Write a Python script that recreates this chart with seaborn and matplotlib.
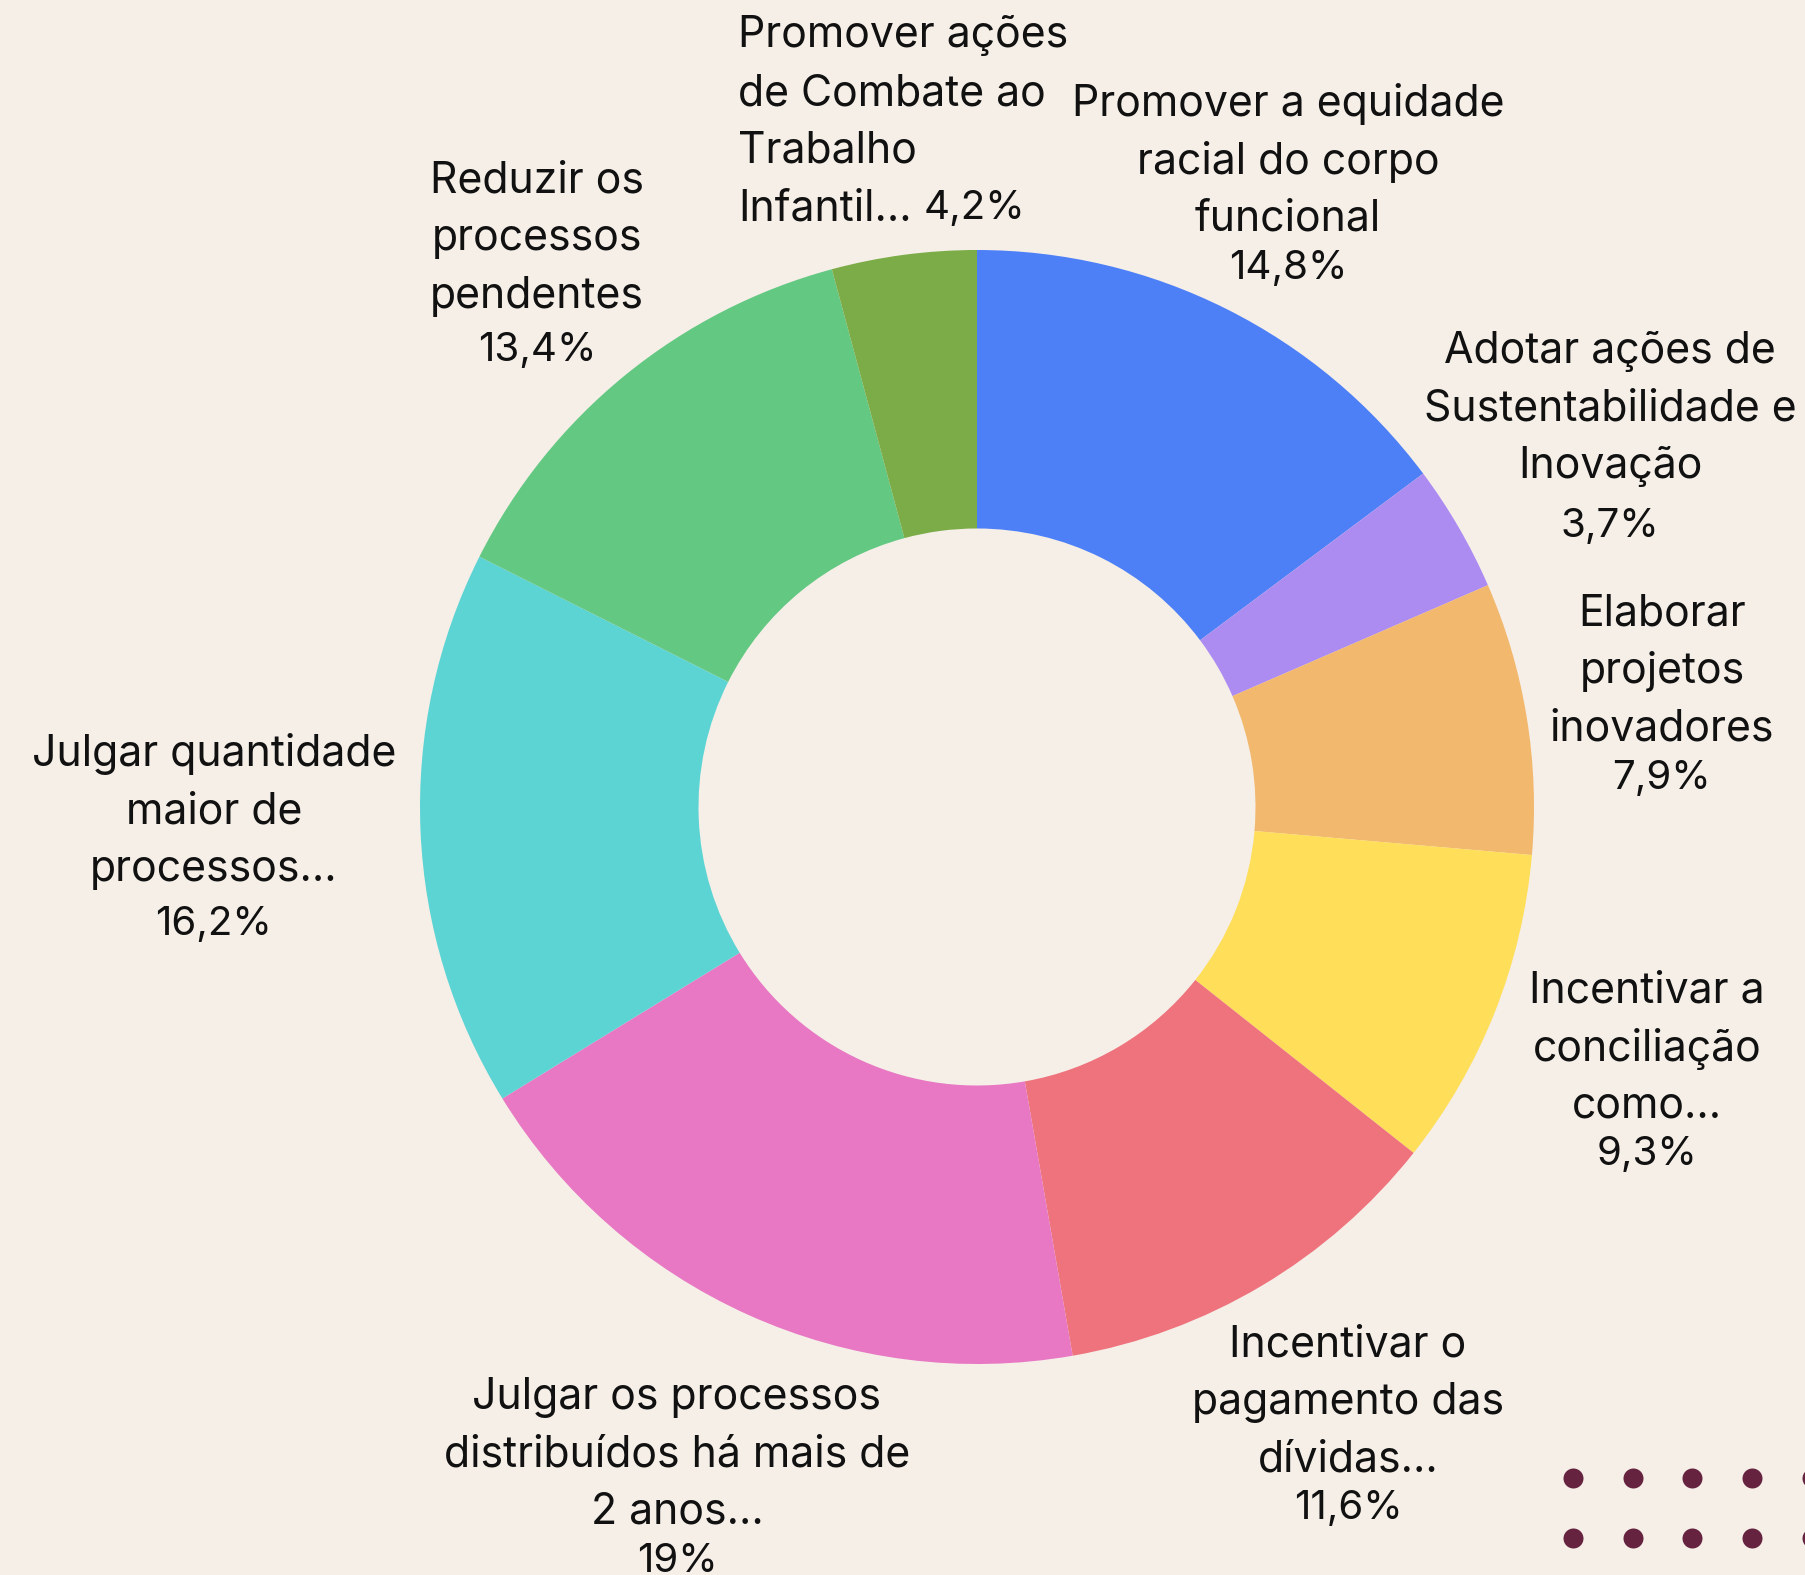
import matplotlib
matplotlib.use("Agg")
import matplotlib.pyplot as plt
import seaborn as sns

categories = [
    "Promover a equidade\nracial do corpo\nfuncional",
    "Adotar ações de\nSustentabilidade e\nInovação",
    "Elaborar\nprojetos\ninovadores",
    "Incentivar a\nconciliação\ncomo…",
    "Incentivar o\npagamento das\ndívidas…",
    "Julgar os processos\ndistribuídos há mais de\n2 anos…",
    "Julgar quantidade\nmaior de\nprocessos…",
    "Reduzir os\nprocessos\npendentes",
    "Promover ações\nde Combate ao\nTrabalho\nInfantil…",
]
values = [14.8, 3.7, 7.9, 9.3, 11.6, 19.0, 16.2, 13.4, 4.2]
pct_labels = ["14,8%", "3,7%", "7,9%", "9,3%", "11,6%", "19%", "16,2%", "13,4%", "4,2%"]
colors = ["#4D80F7", "#AD8CF2", "#F2B86E", "#FFDE59", "#EF737D",
          "#E878C3", "#5DD4D4", "#63C882", "#7BAC47"]

BG = "#F5EFE8"
sns.set_theme(style="white")
plt.rcParams["font.family"] = ["Inter", "DejaVu Sans"]
palette = sns.color_palette(colors)

W, H = 1806, 1575
fig = plt.figure(figsize=(W / 100, H / 100), dpi=100, facecolor=BG)
ax = fig.add_axes([0, 0, 1, 1])
ax.set_facecolor(BG)

cx, cy, R = 977, H - 807, 557
ax.pie(values, colors=palette, startangle=90, counterclock=False,
       center=(cx, cy), radius=R, frame=True,
       wedgeprops=dict(width=R * 0.5, linewidth=0))
ax.set_xlim(0, W)
ax.set_ylim(0, H)
ax.set_aspect("equal")
ax.axis("off")

# label layout: x, first-line y, percent-line y (pixels from top), alignment
label_pos = [
    (1288, 104, 268, "center"),
    (1610, 351, 526, "center"),
    (1662, 614, 779, "center"),
    (1647, 991, 1154, "center"),
    (1348, 1345, 1509, "center"),
    (677, 1397, 1561, "center"),
    (214, 754, 925, "center"),
    (537, 181, 351, "center"),
    (738, 36, None, "left"),
]
fs = 30.8
fs_pct = 29
step = 57.6
for cat, pct, (x, y0, yp, ha) in zip(categories, pct_labels, label_pos):
    lines = cat.split("\n")
    for i, ln in enumerate(lines):
        t = ax.text(x, H - (y0 + i * step), ln, ha=ha, va="center",
                    fontsize=fs, color="#111111")
    if yp is None:
        # percentage continues on the last line
        fig.canvas.draw()
        bb = t.get_window_extent()
        ax.text(bb.x1 + 12, H - (y0 + (len(lines) - 1) * step), pct,
                ha="left", va="center", fontsize=fs_pct, color="#111111")
    else:
        ax.text(x, H - yp, pct, ha=ha, va="center", fontsize=fs_pct, color="#111111")

# decorative dots
dot_x = [1573, 1633, 1692, 1752, 1812]
dot_y = [1478, 1538]
for yy in dot_y:
    ax.scatter(dot_x, [H - yy] * len(dot_x), s=(20 * 0.72) ** 2,
               color="#65233F", linewidths=0, clip_on=False)

fig.savefig("out.png", dpi=100, facecolor=BG)
